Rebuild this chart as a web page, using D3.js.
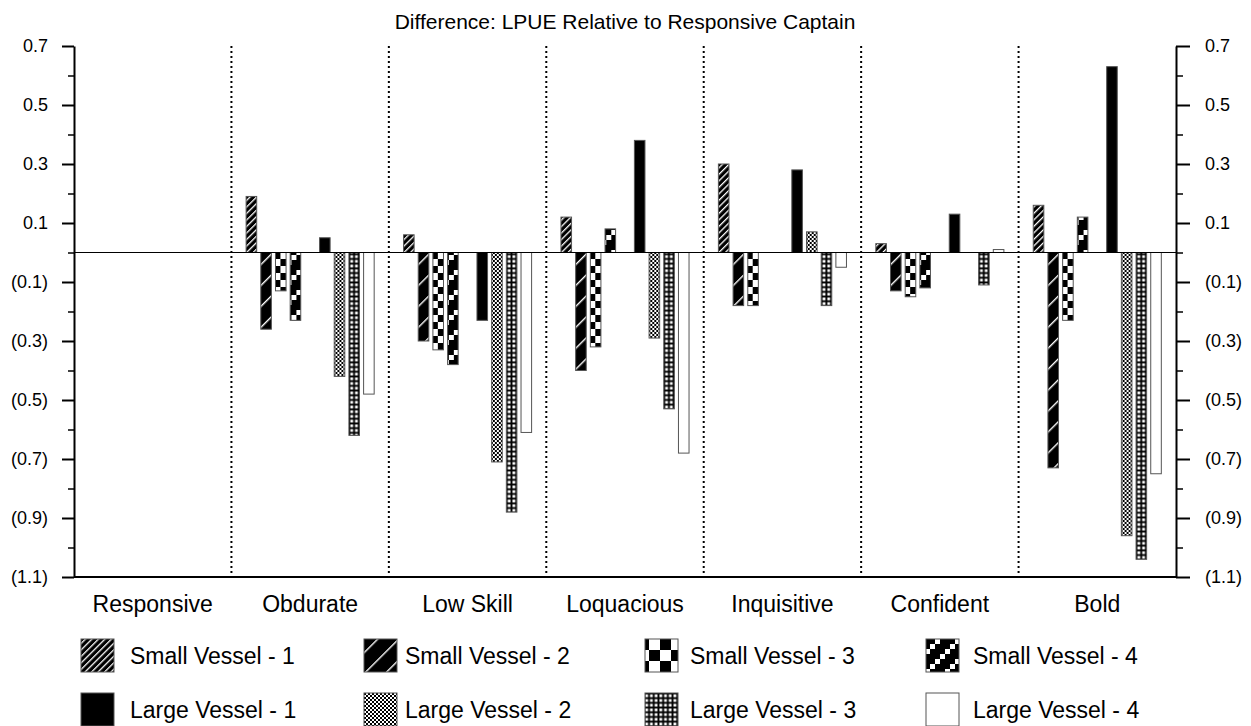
<!DOCTYPE html>
<html>
<head>
<meta charset="utf-8">
<script src="https://cdn.jsdelivr.net/npm/d3@7"></script>
<style>
  body { margin: 0; background: #fff; }
  svg { display: block; font-family: "Liberation Sans", Arial, sans-serif; }
</style>
</head>
<body>
<div id="chart"></div>
<script>
// categories and series
const categories = ["Responsive", "Obdurate", "Low Skill", "Loquacious", "Inquisitive", "Confident", "Bold"];
const seriesNames = ["Small Vessel - 1", "Small Vessel - 2", "Small Vessel - 3", "Small Vessel - 4",
                     "Large Vessel - 1", "Large Vessel - 2", "Large Vessel - 3", "Large Vessel - 4"];

// values (one per category)
const smallVessel1 = [0, 0.19, 0.06, 0.12, 0.30, 0.03, 0.16];
const smallVessel2 = [0, -0.26, -0.30, -0.40, -0.18, -0.13, -0.73];
const smallVessel3 = [0, -0.13, -0.33, -0.32, -0.18, -0.15, -0.23];
const smallVessel4 = [0, -0.23, -0.38, 0.08, 0, -0.12, 0.12];
const largeVessel1 = [0, 0.05, -0.23, 0.38, 0.28, 0.13, 0.63];
const largeVessel2 = [0, -0.42, -0.71, -0.29, 0.07, 0, -0.96];
const largeVessel3 = [0, -0.62, -0.88, -0.53, -0.18, -0.11, -1.04];
const largeVessel4 = [0, -0.48, -0.61, -0.68, -0.05, 0.01, -0.75];

const seriesValues = [smallVessel1, smallVessel2, smallVessel3, smallVessel4,
                      largeVessel1, largeVessel2, largeVessel3, largeVessel4];

// slots inside a group, one empty slot between small and large vessels
const slots = ["sv1", "sv2", "sv3", "sv4", "gap", "lv1", "lv2", "lv3", "lv4"];
const slotOf = ["sv1", "sv2", "sv3", "sv4", "lv1", "lv2", "lv3", "lv4"];

const majorTicks = [0.7, 0.5, 0.3, 0.1, -0.1, -0.3, -0.5, -0.7, -0.9, -1.1];
const minorTicks = [0.6, 0.4, 0.2, 0, -0.2, -0.4, -0.6, -0.8, -1.0];

const width = 1251, height = 726;
const mLeft = 74, mRight = 1176, mTop = 46, mBottom = 577;

const svg = d3.select("#chart").append("svg")
  .attr("width", width).attr("height", height);

const defs = svg.append("defs");

// patterns
function stripes(id, period, lineW) {
  const p = defs.append("pattern").attr("id", id)
    .attr("patternUnits", "userSpaceOnUse")
    .attr("width", period).attr("height", period)
    .attr("patternTransform", "rotate(45)");
  p.append("rect").attr("width", period).attr("height", period).attr("fill", "#000");
  p.append("rect").attr("width", lineW).attr("height", period).attr("fill", "#fff");
}
stripes("p0", 4.6, 1.3);
stripes("p1", 14.8, 1.4);

function checks(id, s) {
  const p = defs.append("pattern").attr("id", id)
    .attr("patternUnits", "userSpaceOnUse")
    .attr("width", s * 2).attr("height", s * 2);
  p.append("rect").attr("width", s * 2).attr("height", s * 2).attr("fill", "#fff");
  p.append("rect").attr("width", s).attr("height", s).attr("fill", "#000");
  p.append("rect").attr("x", s).attr("y", s).attr("width", s).attr("height", s).attr("fill", "#000");
}
checks("p2", 7);
checks("p2L", 11);
checks("p5", 2);

// staircase
const stair = defs.append("pattern").attr("id", "p3")
  .attr("patternUnits", "userSpaceOnUse").attr("width", 20).attr("height", 20);
stair.append("rect").attr("width", 20).attr("height", 20).attr("fill", "#000");
[[15, 0], [10, 5], [5, 10], [0, 15]].forEach(d => {
  stair.append("rect").attr("x", d[0]).attr("y", d[1]).attr("width", 5).attr("height", 5).attr("fill", "#fff");
});

// grid
const grid = defs.append("pattern").attr("id", "p6")
  .attr("patternUnits", "userSpaceOnUse").attr("width", 4.7).attr("height", 4.7);
grid.append("rect").attr("width", 4.7).attr("height", 4.7).attr("fill", "#000");
grid.append("rect").attr("x", 1.4).attr("y", 1.4).attr("width", 2.8).attr("height", 2.8).attr("fill", "#fff");

const fills = ["url(#p0)", "url(#p1)", "url(#p2)", "url(#p3)", "#000", "url(#p5)", "url(#p6)", "#fff"];
const legendFills = ["url(#p0)", "url(#p1)", "url(#p2L)", "url(#p3)", "#000", "url(#p5)", "url(#p6)", "#fff"];

// scales
const x0 = d3.scaleBand().domain(categories).range([mLeft, mRight]);
const x1 = d3.scaleBand().domain(slots).range([0, x0.bandwidth()]).paddingInner(0.28).paddingOuter(1);
const y = d3.scaleLinear().domain([-1.1, 0.7]).range([mBottom, mTop]);

const fmt = v => v < 0 ? "(" + d3.format(".1f")(-v) + ")" : d3.format(".1f")(v);

// title
svg.append("text")
  .attr("x", (mLeft + mRight) / 2).attr("y", 29)
  .attr("text-anchor", "middle")
  .attr("font-size", 21)
  .text("Difference: LPUE Relative to Responsive Captain");

// group dividers
svg.append("g").selectAll("line")
  .data(categories.slice(1))
  .join("line")
  .attr("x1", d => x0(d)).attr("x2", d => x0(d))
  .attr("y1", mTop).attr("y2", mBottom)
  .attr("stroke", "#000").attr("stroke-width", 2)
  .attr("stroke-dasharray", "2,3");

// bars
const groups = svg.append("g").selectAll("g")
  .data(categories)
  .join("g")
  .attr("transform", d => `translate(${x0(d)},0)`);

groups.selectAll("rect")
  .data((d, ci) => seriesValues.map((vals, si) => ({ si: si, v: vals[ci] })))
  .join("rect")
  .attr("x", d => x1(slotOf[d.si]))
  .attr("width", x1.bandwidth())
  .attr("y", d => y(Math.max(0, d.v)))
  .attr("height", d => Math.abs(y(d.v) - y(0)))
  .attr("fill", d => fills[d.si])
  .attr("stroke", d => d.v === 0 ? "none" : "#555")
  .attr("stroke-width", 1);

// zero line
svg.append("line")
  .attr("x1", mLeft).attr("x2", mRight)
  .attr("y1", y(0)).attr("y2", y(0))
  .attr("stroke", "#000").attr("stroke-width", 1.2);

// axes
function styleAxis(g) {
  g.selectAll("text").attr("font-size", 18).attr("fill", "#000")
    .attr("font-family", "Liberation Sans, Arial, sans-serif");
  g.selectAll("line").attr("stroke", "#000").attr("stroke-width", 2);
  g.select(".domain").attr("stroke", "#000").attr("stroke-width", 2);
}

const leftAxis = svg.append("g").attr("transform", `translate(${mLeft},0)`)
  .call(d3.axisLeft(y).tickValues(majorTicks).tickSize(12).tickSizeOuter(0).tickPadding(14).tickFormat(fmt));
styleAxis(leftAxis);
svg.append("g").attr("transform", `translate(${mLeft},0)`)
  .call(d3.axisLeft(y).tickValues(minorTicks).tickSize(6).tickFormat(""))
  .call(g => { g.select(".domain").remove(); g.selectAll("line").attr("stroke", "#000").attr("stroke-width", 1.5); });

const rightAxis = svg.append("g").attr("transform", `translate(${mRight},0)`)
  .call(d3.axisRight(y).tickValues(majorTicks).tickSize(14).tickSizeOuter(0).tickPadding(15).tickFormat(fmt));
styleAxis(rightAxis);
svg.append("g").attr("transform", `translate(${mRight},0)`)
  .call(d3.axisRight(y).tickValues(minorTicks).tickSize(7).tickFormat(""))
  .call(g => { g.select(".domain").remove(); g.selectAll("line").attr("stroke", "#000").attr("stroke-width", 1.5); });

// bottom line
svg.append("line")
  .attr("x1", mLeft).attr("x2", mRight)
  .attr("y1", mBottom).attr("y2", mBottom)
  .attr("stroke", "#000").attr("stroke-width", 2);

// category labels
svg.append("g").selectAll("text")
  .data(categories)
  .join("text")
  .attr("x", d => x0(d) + x0.bandwidth() / 2)
  .attr("y", 612)
  .attr("text-anchor", "middle")
  .attr("font-size", 23)
  .text(d => d);

// legend
const legX = [81, 364, 645, 926];
const legTextX = [130, 405, 690, 973];
const legY = [639, 693];
const legend = svg.append("g").selectAll("g")
  .data(seriesNames)
  .join("g")
  .attr("transform", (d, i) => `translate(0,${legY[Math.floor(i / 4)]})`);

legend.append("rect")
  .attr("x", (d, i) => legX[i % 4])
  .attr("width", 33).attr("height", 33)
  .attr("fill", (d, i) => legendFills[i])
  .attr("stroke", "#555").attr("stroke-width", 1);

legend.append("text")
  .attr("x", (d, i) => legTextX[i % 4]).attr("y", 25)
  .attr("font-size", 23)
  .text(d => d);
</script>
</body>
</html>
